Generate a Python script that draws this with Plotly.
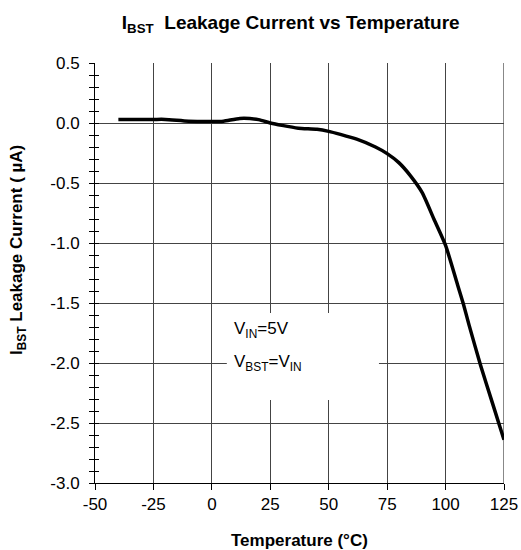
import plotly.graph_objects as go

temps = [-40, -25, -20, -10, 0, 5, 12, 20, 25, 30, 37, 45, 50, 55, 62, 70, 75, 80, 85, 90, 95, 100, 105, 107.5, 110, 115, 120, 125]
leak = [0.03, 0.03, 0.03, 0.015, 0.012, 0.015, 0.038, 0.028, 0.0, -0.02, -0.043, -0.053, -0.07, -0.095, -0.135, -0.2, -0.255, -0.33, -0.44, -0.58, -0.8, -1.02, -1.34, -1.5, -1.68, -2.02, -2.33, -2.64]

x_ticks = [-50, -25, 0, 25, 50, 75, 100, 125]
x_tick_text = ["-50", "-25", "0", "25", "50", "75", "100", "125"]
y_ticks = [0.5, 0.0, -0.5, -1.0, -1.5, -2.0, -2.5, -3.0]
y_tick_text = ["0.5", "0.0", "-0.5", "-1.0", "-1.5", "-2.0", "-2.5", "-3.0"]

FONT = "Liberation Sans, Arial, sans-serif"

fig = go.Figure()
fig.add_trace(go.Scatter(x=temps, y=leak, mode="lines",
                         line=dict(color="black", width=3.5, shape="spline", smoothing=0.6),
                         showlegend=False))
# invisible trace for the overlay axis (inside ticks -> crossing ticks)
fig.add_trace(go.Scatter(x=[x_ticks[0]], y=[y_ticks[-1]], yaxis="y2", mode="markers",
                         marker=dict(opacity=0), showlegend=False, hoverinfo="skip"))

fig.update_layout(
    width=521, height=550,
    margin=dict(l=95, r=17, t=63, b=67),
    paper_bgcolor="white", plot_bgcolor="white",
    font=dict(family=FONT, color="black", size=17),
    title=dict(text="<b>I<sub>BST</sub>  Leakage Current vs Temperature</b>",
               xref="container", x=0.558, xanchor="center",
               yref="container", y=0.96, yanchor="middle",
               font=dict(size=19, family=FONT)),
    xaxis=dict(range=[-50, 125], tickvals=x_ticks, ticktext=x_tick_text,
               ticks="outside", ticklen=6, tickcolor="black", automargin=False,
               showline=True, linecolor="black", linewidth=1,
               showgrid=True, gridcolor="#444", gridwidth=1, zeroline=False,
               tickfont=dict(size=17)),
    yaxis=dict(range=[-3.0, 0.5], tickvals=y_ticks, ticktext=y_tick_text,
               ticks="outside", ticklen=5, tickcolor="black", automargin=False,
               ticklabelstandoff=6,
               minor=dict(dtick=0.1, ticks="outside", ticklen=5, tickcolor="black", showgrid=False),
               showline=True, linecolor="black", linewidth=1,
               showgrid=True, gridcolor="#444", gridwidth=1, zeroline=False,
               tickfont=dict(size=17)),
    yaxis2=dict(range=[-3.0, 0.5], overlaying="y", side="left", tickvals=y_ticks,
                ticks="inside", ticklen=4, tickcolor="black", showticklabels=False,
                minor=dict(dtick=0.1, ticks="inside", ticklen=4, tickcolor="black", showgrid=False),
                showgrid=False, zeroline=False, showline=False, automargin=False),
)

# axis titles
fig.add_annotation(text="<b>Temperature (°C)</b>", xref="paper", yref="paper",
                   x=(299.5 - 95) / 409, y=(483 - 540) / 420, xanchor="center", yanchor="middle",
                   showarrow=False, font=dict(size=17))
fig.add_annotation(text="<b>I<sub>BST</sub> Leakage Current ( µA)</b>", xref="paper", yref="paper",
                   x=(18 - 95) / 409, y=(483 - 250) / 420, xanchor="center", yanchor="middle",
                   textangle=-90, showarrow=False, font=dict(size=17))

# gray right edge (gridline at 125 drawn like the reference)
fig.add_shape(type="line", xref="x", yref="paper", x0=125, x1=125, y0=0, y1=1,
              line=dict(color="#888", width=2), layer="between")

# white box behind the condition labels
fig.add_shape(type="rect", xref="x", yref="y", x0=6.4, x1=71.5, y0=-1.583, y1=-2.308,
              fillcolor="white", line=dict(width=0), layer="between")
fig.add_annotation(x=8.5, y=-1.725, xref="x", yref="y", xanchor="left", yanchor="middle",
                   text="V<sub>IN</sub>=5V", showarrow=False, font=dict(size=17))
fig.add_annotation(x=8.5, y=-2.0, xref="x", yref="y", xanchor="left", yanchor="middle",
                   text="V<sub>BST</sub>=V<sub>IN</sub>", showarrow=False, font=dict(size=17))

fig.write_html("out.html",
               config={"displayModeBar": False},
               post_script="document.body.style.margin='0';document.body.style.padding='0';"
                           "document.body.style.overflow='hidden';")
